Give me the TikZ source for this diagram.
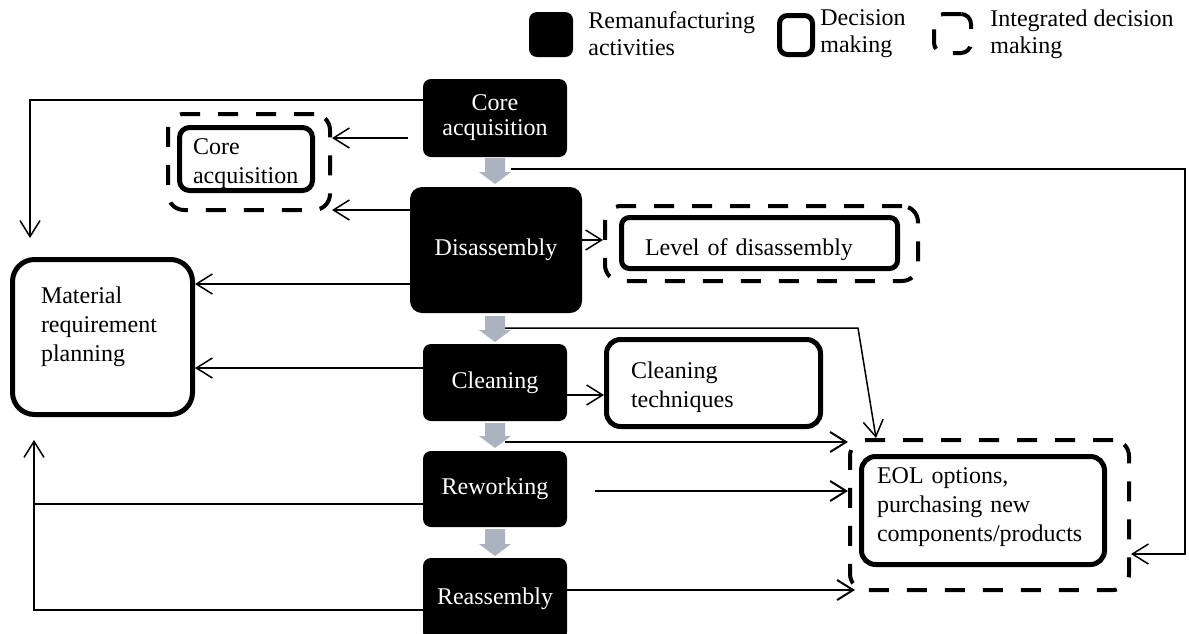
\documentclass[tikz,border=0pt]{standalone}
\usepackage{fontspec}
\setmainfont{Liberation Serif}
\usetikzlibrary{arrows.meta, positioning}
\definecolor{flowgray}{RGB}{171, 178, 192}

\begin{document}
\begin{tikzpicture}[x=0.5pt, y=-0.5pt,
  activity/.style={fill=black, text=white, rounded corners=4pt, align=center, inner sep=2pt, font=\fontsize{12}{12.5}\selectfont},
  decision/.style={draw, line width=2.5pt, rounded corners=5pt, align=left, inner ysep=0pt, font=\fontsize{12}{14.5}\selectfont},
  integrated/.style={draw, line width=2pt, dash pattern=on 10pt off 9pt, rounded corners=8pt, inner sep=0pt},
  legendtext/.style={anchor=west, align=left, inner sep=0pt, font=\fontsize{12}{13.5}\selectfont},
  conn/.style={-{Straight Barb[length=8pt, width=10pt]}, line width=0.75pt},
  plainline/.style={line width=0.75pt}]
  \useasboundingbox (0,0) rectangle (1189,633);

  % legend
  \node[activity, minimum width=22pt, minimum height=22.5pt] (legact) at (551,34.5) {};
  \node[legendtext] (legacttxt) at (588,34) {Remanufacturing\\activities};
  \node[decision, inner sep=0pt, minimum width=16.5pt, minimum height=19.5pt, rounded corners=4pt] (legdec) at (796,35) {};
  \node[legendtext] (legdectxt) at (820,34) {Decision\\making};
  \node[integrated, minimum width=18.5pt, minimum height=19.5pt, rounded corners=5pt] (legint) at (952.5,33.5) {};
  \node[legendtext] (leginttxt) at (990,34) {Integrated decision\\making};

  % remanufacturing activities
  \node[activity, minimum width=72pt, minimum height=39pt] (ca) at (495,118) {Core\\acquisition};
  \node[activity, minimum width=86pt, minimum height=63pt, rounded corners=6pt] (dis) at (496,250) {Disassembly};
  \node[activity, minimum width=72pt, minimum height=38.5pt] (cln) at (495,382.5) {Cleaning};
  \node[activity, minimum width=72pt, minimum height=38pt] (rew) at (495,489) {Reworking};
  \node[activity, minimum width=72pt, minimum height=41pt] (rea) at (495,599) {Reassembly};

  % flow between activities
  \foreach \t/\b in {158/184, 316/342, 423/448, 529/556} {
    \fill[flowgray] (485,\t) -- (505,\t) -- (505,\b-12) -- (511,\b-12) -- (495,\b) -- (479,\b-12) -- (485,\b-12) -- cycle;
  }

  % decisions
  \node[decision, text width=53pt, inner xsep=6.75pt, minimum height=31.5pt, text height=13pt] (cadec) at (246,159) {Core\\acquisition};
  \node[integrated, minimum width=81pt, minimum height=48pt] (cadecint) at (249,162) {};
  \node[decision, rounded corners=11pt, text width=61.5pt, inner xsep=14.25pt, minimum height=77.5pt, text depth=41.6pt] (mrp) at (102.5,337) {Material\\requirement\\planning};
  \node[decision, rounded corners=4pt, text width=114.5pt, inner xsep=11.75pt, minimum height=25.5pt, text height=15pt] (lvl) at (759.5,243) {Level of disassembly};
  \node[integrated, minimum width=156.5pt, minimum height=37.5pt] (lvlint) at (761.5,243.5) {};
  \node[decision, rounded corners=7pt, text width=82.5pt, inner xsep=12.25pt, minimum height=43.5pt, text height=12.2pt] (cltec) at (713.5,383) {Cleaning\\techniques};
  \node[decision, rounded corners=7pt, text width=106pt, inner xsep=7.75pt, minimum height=54pt, text depth=34.6pt] (eol) at (983,510.5) {EOL options,\\purchasing new\\components/products};
  \node[integrated, minimum width=139.5pt, minimum height=75pt] (eolint) at (989.5,515) {};

  % free ends
  \coordinate (g1out) at (511,169);
  \coordinate (g2out) at (505,328);
  \coordinate (g3out) at (505,442);
  \coordinate (rightrail) at (1185,169);
  \coordinate (g2turn) at (858,328);
  \coordinate (g2tip) at (876,438);
  \coordinate (mrptop) at (30,238);
  \coordinate (mrpbot) at (34,440);
  \coordinate (leftrail) at (34,504);
  \coordinate (castub) at (408,138);
  \coordinate (rewstub) at (595,491);
  \coordinate (eolcorner) at (855,590);

  % connectors
  \draw[conn] (ca.west |- 0,100) -| (mrptop);
  \draw[conn] (castub) -- (castub -| cadecint.east);
  \draw[conn] (dis.west |- 0,210) -- (cadecint.east |- 0,210);
  \draw[conn] (dis.west |- 0,284) -- (mrp.east |- 0,284);
  \draw[conn] (cln.west |- 0,368) -- (mrp.east |- 0,368);
  \draw[plainline] (rew.west |- 0,504) -- (leftrail);
  \draw[conn] (rea.west |- 0,610) -| (mrpbot);
  \draw[conn] (dis.east |- 0,240) -- (lvlint.west |- 0,240);
  \draw[conn] (cln.east |- 0,395) -- (cltec.west |- 0,395);
  \draw[conn, line width=1pt] (rewstub) -- (eolint.west |- rewstub);
  \draw[conn, line width=1pt] (rea.east |- 0,590) -- (eolcorner);
  \draw[conn] (g1out) -- (rightrail) |- (eolint.east |- 0,554);
  \draw[conn] (g2out) -- (g2turn) -- (g2tip);
  \draw[conn, line width=1pt] (g3out) -- (g3out -| eolint.west);
\end{tikzpicture}
\end{document}
